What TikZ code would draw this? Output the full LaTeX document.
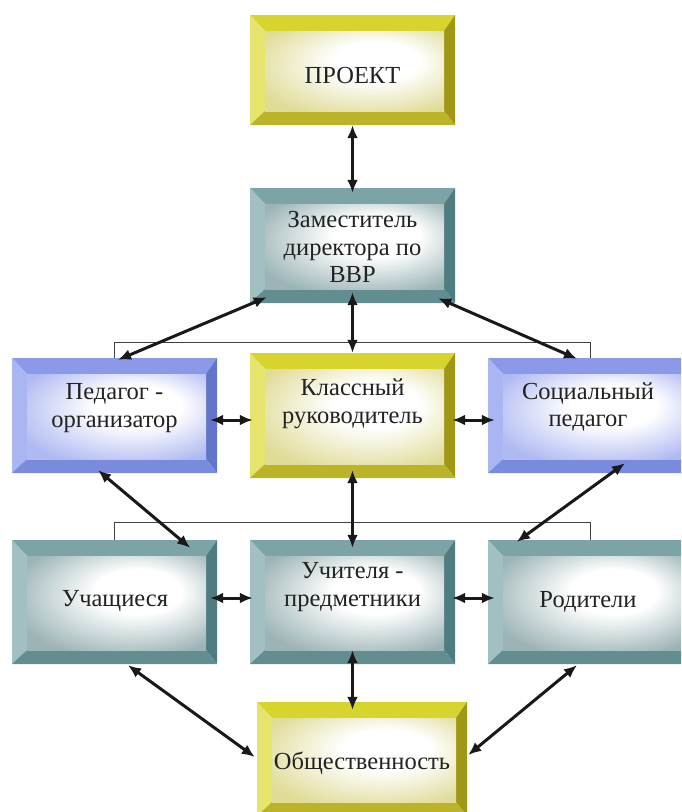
\documentclass[tikz,border=0pt]{standalone}
\usepackage{fontspec}
\setmainfont{Liberation Serif}
\usetikzlibrary{arrows.meta}
% yellow
\definecolor{yT}{HTML}{D8D42E}
\definecolor{yL}{HTML}{E6E46C}
\definecolor{yR}{HTML}{9E9816}
\definecolor{yB}{HTML}{BCB428}
\definecolor{yFc}{HTML}{E0DC98}
% teal
\definecolor{tT}{HTML}{7CA4A6}
\definecolor{tL}{HTML}{A2C0C2}
\definecolor{tR}{HTML}{4E7C80}
\definecolor{tB}{HTML}{628E91}
\definecolor{tFc}{HTML}{9CB4B6}
% blue
\definecolor{bT}{HTML}{8A9AE8}
\definecolor{bL}{HTML}{AAB6F2}
\definecolor{bR}{HTML}{6474CC}
\definecolor{bB}{HTML}{7A8ADC}
\definecolor{bFc}{HTML}{B0BAF2}
\definecolor{txtc}{HTML}{222222}
\pgfdeclareradialshading{yF}{\pgfpoint{8bp}{8bp}}{color(0bp)=(white);color(12bp)=(white);color(33bp)=(yFc);color(50bp)=(yFc)}
\pgfdeclareradialshading{tF}{\pgfpoint{8bp}{8bp}}{color(0bp)=(white);color(12bp)=(white);color(33bp)=(tFc);color(50bp)=(tFc)}
\pgfdeclareradialshading{bF}{\pgfpoint{8bp}{8bp}}{color(0bp)=(white);color(12bp)=(white);color(33bp)=(bFc);color(50bp)=(bFc)}
\tikzset{
  bevbox/.style n args={5}{
    inner sep=0pt, fill=white,
    path picture={
      \path (path picture bounding box.north west) coordinate (bvnw)
            (path picture bounding box.north east) coordinate (bvne)
            (path picture bounding box.south west) coordinate (bvsw)
            (path picture bounding box.south east) coordinate (bvse);
      \path ([shift={(15pt,-16pt)}]bvnw) coordinate (bvinw)
            ([shift={(-11pt,-16pt)}]bvne) coordinate (bvine)
            ([shift={(15pt,14pt)}]bvsw) coordinate (bvisw)
            ([shift={(-11pt,14pt)}]bvse) coordinate (bvise);
      \fill[#1] (bvnw) -- (bvne) -- (bvine) -- (bvinw) -- cycle;
      \fill[#2] (bvnw) -- (bvinw) -- (bvisw) -- (bvsw) -- cycle;
      \fill[#3] (bvne) -- (bvse) -- (bvise) -- (bvine) -- cycle;
      \fill[#4] (bvsw) -- (bvisw) -- (bvise) -- (bvse) -- cycle;
      \shade[shading=#5] (bvinw) rectangle (bvise);
    }
  },
  ybox/.style={bevbox={yT}{yL}{yR}{yB}{yF}},
  tbox/.style={bevbox={tT}{tL}{tR}{tB}{tF}},
  bbox/.style={bevbox={bT}{bL}{bR}{bB}{bF}},
  txt/.style={align=center, text=txtc, inner sep=0pt, font=\fontsize{24.5}{27.5}\selectfont},
  arr/.style={{Latex[length=13pt,width=11pt]}-{Latex[length=13pt,width=11pt]}, line width=3pt, black!90},
  brk/.style={line width=1.1pt, black!75},
}
\begin{document}
\begin{tikzpicture}[x=1pt,y=-1pt]
\useasboundingbox (0,0) rectangle (681,812);
\clip (0,0) rectangle (681,812);
\fill[white] (0,0) rectangle (681,812);
% boxes
\node[ybox, minimum width=205pt, minimum height=110pt] (proj)  at (352.5,70)  {};
\node[tbox, minimum width=205pt, minimum height=115pt] (zam)   at (352.5,245.5) {};
\node[bbox, minimum width=205pt, minimum height=115pt] (ped)   at (114.5,415.5) {};
\node[ybox, minimum width=205pt, minimum height=125pt] (klass) at (352.5,415.5) {};
\node[bbox, minimum width=205pt, minimum height=115pt] (soc)   at (590.5,415.5) {};
\node[tbox, minimum width=205pt, minimum height=124pt] (uchs)  at (114.5,602) {};
\node[tbox, minimum width=205pt, minimum height=124pt] (uchit) at (352.5,602) {};
\node[tbox, minimum width=205pt, minimum height=124pt] (rod)   at (590.5,602) {};
\node[ybox, minimum width=210pt, minimum height=114pt] (obsh)  at (362,759) {};
% texts
\node[txt] (projT)  at (352.5,76)  {ПРОЕКТ};
\node[txt] (zamT)   at (352.5,247) {Заместитель\\директора по\\ВВР};
\node[txt] (pedT)   at (114.5,408) {Педагог -\\организатор};
\node[txt] (klassT) at (352.5,404) {Классный\\руководитель};
\node[txt] (socT)   at (588,407)   {Социальный\\педагог};
\node[txt] (uchsT)  at (115,601)   {Учащиеся};
\node[txt] (uchitT) at (352.5,587) {Учителя -\\предметники};
\node[txt] (rodT)   at (588,602)   {Родители};
\node[txt] (obshT)  at (362,763)   {Общественность};
% bracket lines
\draw[brk] (ped.north) -- ++(0,-15) -| (soc.north);
\draw[brk] (uchs.north) -- ++(0,-17) -| (rod.north);
% arrows
\draw[arr] (proj.south) -- ([yshift=-5pt]zam.north);
\draw[arr] ([yshift=11pt]zam.south) -- (klass.north);
\draw[arr] ([shift={(17pt,6pt)}]zam.south west) -- ([shift={(3.5pt,-2pt)}]ped.north);
\draw[arr] ([shift={(-17pt,5pt)}]zam.south east) -- ([shift={(-13.5pt,-1pt)}]soc.north);
\draw[arr] ([shift={(-7pt,-4.5pt)}]ped.east) -- ([shift={(3pt,-4.5pt)}]klass.west);
\draw[arr] ([shift={(-3pt,-4.5pt)}]klass.east) -- ([shift={(7pt,-4.5pt)}]soc.west);
\draw[arr] ([yshift=8pt]klass.south) -- ([yshift=-8pt]uchit.north);
\draw[arr] ([shift={(-16.5pt,3pt)}]ped.south) -- ([shift={(-27pt,-8pt)}]uchs.north east);
\draw[arr] ([shift={(34.5pt,10pt)}]soc.south) -- ([shift={(29pt,-2pt)}]rod.north west);
\draw[arr] ([shift={(-7pt,4pt)}]uchs.east) -- ([shift={(3pt,4pt)}]uchit.west);
\draw[arr] ([shift={(-3pt,4pt)}]uchit.east) -- ([shift={(7pt,4pt)}]rod.west);
\draw[arr] ([yshift=14pt]uchit.south) -- ([yshift=-8pt]uchit.south |- obsh.north);
\draw[arr] ([shift={(13.5pt,-1pt)}]uchs.south) -- ([shift={(-2pt,2pt)}]obsh.west);
\draw[arr] ([shift={(-13.5pt,-1pt)}]rod.south) -- ([shift={(1pt,4pt)}]obsh.east);
\end{tikzpicture}
\end{document}
